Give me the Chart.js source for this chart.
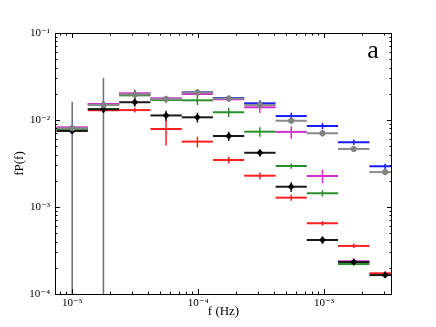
<!DOCTYPE html>
<html lang="en">
<head>
  <meta charset="UTF-8" />
  <title>fP(f) spectrum</title>
  <script src="https://cdn.jsdelivr.net/npm/chart.js"></script>
  <style>
    html, body { margin: 0; padding: 0; background: #fff; }
    #spec { display: block; }
  </style>
</head>
<body>
  <canvas id="spec" width="436" height="327"></canvas>

  <script>
    // frequency bins (Hz): centre and edges
    const freq  = [1.0e-5, 1.77e-5, 3.14e-5, 5.56e-5, 9.86e-5, 1.75e-4, 3.09e-4, 5.48e-4, 9.71e-4, 1.72e-3, 3.05e-3];
    const binLo = [7.5e-6, 1.33e-5, 2.36e-5, 4.18e-5, 7.41e-5, 1.31e-4, 2.32e-4, 4.12e-4, 7.29e-4, 1.29e-3, 2.29e-3];
    const binHi = [1.33e-5, 2.36e-5, 4.18e-5, 7.41e-5, 1.31e-4, 2.32e-4, 4.12e-4, 7.29e-4, 1.29e-3, 2.29e-3, 4.06e-3];

    // fP(f) per series, with symmetric errors
    const blueVals    = [0.0080, 0.0150, 0.0198, 0.0175, 0.0208, 0.0179, 0.01556, 0.0111, 0.00853, 0.00555, 0.00294];
    const blueErr     = [0.0008, 0.0015, 0.0015, 0.0012, 0.0012, 0.0011, 0.0013, 0.0010, 0.0007, 0.0004, 0.0002];
    const magentaVals = [0.00824, 0.01528, 0.0203, 0.01774, 0.0199, 0.0173, 0.0140, 0.0073, 0.00227, 0.000238, null];
    const magentaErr  = [0.0006, 0.0012, 0.0020, 0.0012, 0.0012, 0.0012, 0.0020, 0.0012, 0.0004, 0.00002, null];
    const greenVals   = [0.00768, 0.0133, 0.0192, 0.0170, 0.01684, 0.0123, 0.00734, 0.00296, 0.00144, 0.000221, null];
    const greenErr    = [0.0006, 0.0010, 0.0012, 0.0012, 0.0020, 0.0015, 0.0009, 0.0002, 0.00012, 0.00001, null];
    const redVals     = [null, 0.01292, 0.0130, 0.00788, 0.00564, 0.00347, 0.00229, 0.00128, 0.00065, 0.000357, 0.000173];
    const redErr      = [null, 0.0008, 0.0008, 0.0028, 0.0008, 0.0003, 0.0002, 0.0001, 0.00004, 0.00002, 0.00001];
    const grayVals    = [0.00803, 0.01487, 0.0197, 0.0174, 0.0207, 0.0177, 0.0149, 0.0098, 0.00703, 0.00465, 0.00252];
    const grayErr     = [0.0082, 0.0156, 0.0025, 0.0015, 0.0020, 0.0014, 0.0012, 0.0007, 0.0006, 0.0003, 0.0002];
    const blackVals   = [0.00748, 0.01327, 0.0160, 0.01128, 0.01074, 0.00654, 0.0042, 0.00171, 0.000418, 0.000233, 0.000165];
    const blackErr    = [0.0005, 0.0012, 0.0018, 0.0015, 0.0014, 0.0008, 0.0004, 0.00022, 0.00004, 0.000015, 0.000012];

    const xTicks = [1e-5, 1e-4, 1e-3];
    const yTicks = [1e-4, 1e-3, 1e-2, 1e-1];
    const sup = { '-': '⁻', '1': '¹', '2': '²', '3': '³', '4': '⁴', '5': '⁵' };
    const powLabel = v => '10' + String(Math.round(Math.log10(v))).split('').map(c => sup[c]).join('');

    const SERIF = '"Liberation Serif", "DejaVu Serif", serif';

    function makeSet(label, vals, errs, color, errColor, marker) {
      return {
        label: label,
        data: freq.map((f, i) => ({ x: f, y: vals[i] })),
        errs: errs,
        barColor: color,
        errColor: errColor,
        showLine: false,
        pointStyle: marker ? marker.style : 'circle',
        pointRadius: marker ? marker.r : 0,
        pointHoverRadius: 0,
        backgroundColor: marker ? marker.color : color,
        borderColor: marker ? marker.color : color,
        borderWidth: 0
      };
    }

    // horizontal bin bars + vertical error bars
    const errorBars = {
      id: 'errorBars',
      beforeDatasetsDraw(chart) {
        const { ctx, chartArea: a, scales: { x, y } } = chart;
        ctx.save();
        ctx.beginPath();
        ctx.rect(a.left, a.top, a.right - a.left, a.bottom - a.top);
        ctx.clip();
        chart.data.datasets.forEach(ds => {
          ds.data.forEach((p, i) => {
            if (p.y == null) return;
            const py = y.getPixelForValue(p.y);
            const px = x.getPixelForValue(p.x);
            ctx.strokeStyle = ds.barColor;
            ctx.lineWidth = 2;
            ctx.beginPath();
            ctx.moveTo(x.getPixelForValue(binLo[i]), py);
            ctx.lineTo(x.getPixelForValue(binHi[i]), py);
            ctx.stroke();
            const e = ds.errs[i];
            if (!e) return;
            const top = y.getPixelForValue(p.y + e);
            const bot = p.y - e > 0 ? y.getPixelForValue(p.y - e) : a.bottom;
            ctx.strokeStyle = ds.errColor;
            ctx.lineWidth = 1.5;
            ctx.beginPath();
            ctx.moveTo(px, top);
            ctx.lineTo(px, Math.min(bot, a.bottom));
            ctx.stroke();
          });
        });
        ctx.restore();
      }
    };

    // frame, inward ticks and panel letter
    const frame = {
      id: 'frame',
      afterDraw(chart) {
        const { ctx, chartArea: a, scales: { x, y } } = chart;
        ctx.save();
        ctx.strokeStyle = '#000';
        ctx.lineWidth = 1;
        ctx.strokeRect(a.left + 0.5, a.top + 0.5, a.right - a.left - 1, a.bottom - a.top);
        ctx.beginPath();
        for (let n = -6; n <= -1; n++) {
          for (let k = 1; k <= 9; k++) {
            const v = k * Math.pow(10, n);
            const len = k === 1 ? 5 : 2.5;
            if (v >= x.min && v <= x.max) {
              const px = Math.round(x.getPixelForValue(v)) + 0.5;
              ctx.moveTo(px, a.bottom); ctx.lineTo(px, a.bottom - len);
              ctx.moveTo(px, a.top); ctx.lineTo(px, a.top + len);
            }
            if (v >= y.min && v <= y.max) {
              const py = Math.round(y.getPixelForValue(v)) + 0.5;
              ctx.moveTo(a.left, py); ctx.lineTo(a.left + len, py);
              ctx.moveTo(a.right, py); ctx.lineTo(a.right - len, py);
            }
          }
        }
        ctx.stroke();
        ctx.fillStyle = '#000';
        ctx.font = '26px ' + SERIF;
        ctx.textAlign = 'center';
        ctx.textBaseline = 'alphabetic';
        ctx.fillText('a', 373, 58);
        ctx.restore();
      }
    };

    new Chart(document.getElementById('spec'), {
      type: 'scatter',
      data: {
        datasets: [
          makeSet('blue', blueVals, blueErr, '#1a1aff', '#1a1aff'),
          makeSet('magenta', magentaVals, magentaErr, '#d030d0', '#d030d0'),
          makeSet('green', greenVals, greenErr, '#2a8f2a', '#2a8f2a'),
          makeSet('red', redVals, redErr, '#ff2020', '#ff2020'),
          makeSet('gray', grayVals, grayErr, '#8a8a8a', '#6c6c7e', { style: 'circle', r: 3, color: '#808080' }),
          makeSet('black', blackVals, blackErr, '#1a1a1a', '#1a1a1a', { style: 'rectRot', r: 3.5, color: '#000' })
        ]
      },
      plugins: [errorBars, frame],
      options: {
        responsive: false,
        animation: false,
        events: [],
        layout: { padding: { top: 33, right: 44, left: 0, bottom: 0 } },
        plugins: {
          legend: { display: false },
          tooltip: { enabled: false }
        },
        scales: {
          x: {
            type: 'logarithmic',
            min: 7.3e-6,
            max: 3.46e-3,
            grid: { display: false, drawTicks: false },
            border: { display: false },
            afterBuildTicks: s => { s.ticks = xTicks.map(v => ({ value: v })); },
            afterFit: s => { s.height = 33; },
            ticks: {
              callback: v => powLabel(v),
              color: '#000',
              padding: 3,
              maxRotation: 0,
              font: { family: SERIF, size: 11 }
            },
            title: {
              display: true,
              text: 'f (Hz)',
              color: '#000',
              padding: { top: 0, bottom: 8 },
              font: { family: SERIF, size: 13 }
            }
          },
          y: {
            type: 'logarithmic',
            min: 1e-4,
            max: 1e-1,
            grid: { display: false, drawTicks: false },
            border: { display: false },
            afterBuildTicks: s => { s.ticks = yTicks.map(v => ({ value: v })); },
            afterFit: s => { s.width = 55; },
            ticks: {
              callback: v => powLabel(v),
              color: '#000',
              padding: 5,
              font: { family: SERIF, size: 11 }
            },
            title: {
              display: true,
              text: 'fP(f)',
              color: '#000',
              padding: { top: 12, bottom: 0 },
              font: { family: SERIF, size: 13 }
            }
          }
        }
      }
    });
  </script>
</body>
</html>
